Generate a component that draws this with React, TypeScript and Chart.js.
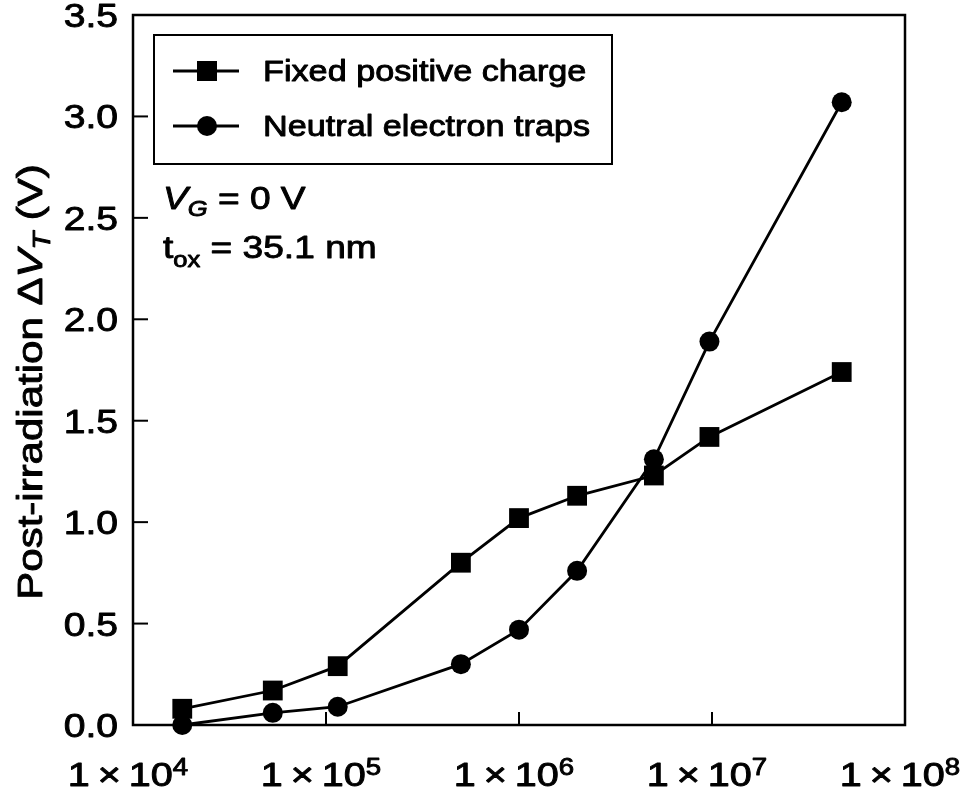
import React, { useEffect, useRef } from 'react';
import { Chart, registerables } from 'chart.js';

Chart.register(...registerables);

// ---- data ----
const xValues = [1.8e4, 5.3e4, 1.15e5, 5e5, 1e6, 2e6, 5e6, 9.7e6, 4.7e7];
const fixedPositiveCharge = [0.08, 0.17, 0.29, 0.8, 1.02, 1.13, 1.23, 1.42, 1.74];
const neutralElectronTraps = [0.0, 0.06, 0.09, 0.3, 0.47, 0.76, 1.31, 1.89, 3.07];
const seriesLabels = ['Fixed positive charge', 'Neutral electron traps'];
const xTickValues = [1e4, 1e5, 1e6, 1e7, 1e8];
const xTickExponents = ['4', '5', '6', '7', '8'];
const yMin = 0;
const yMax = 3.5;
const yStep = 0.5;

const FONT = '"Liberation Sans", Arial, Helvetica, sans-serif';

type Part = { t: string; size: number; italic?: boolean; dy?: number };

function fontOf(p: Part) {
  return `${p.italic ? 'italic ' : ''}${p.size}px ${FONT}`;
}

function runWidth(ctx: CanvasRenderingContext2D, parts: Part[]) {
  let w = 0;
  for (const p of parts) {
    ctx.font = fontOf(p);
    w += ctx.measureText(p.t).width;
  }
  return w;
}

function drawRun(
  ctx: CanvasRenderingContext2D,
  parts: Part[],
  x: number,
  y: number,
  sx: number,
  align: 'left' | 'center' | 'right'
) {
  ctx.save();
  ctx.textAlign = 'left';
  ctx.textBaseline = 'alphabetic';
  ctx.lineJoin = 'round';
  const w = runWidth(ctx, parts) * sx;
  const start = align === 'center' ? x - w / 2 : align === 'right' ? x - w : x;
  ctx.translate(start, y);
  ctx.scale(sx, 1);
  ctx.lineWidth = 0.9;
  let cx = 0;
  for (const p of parts) {
    ctx.font = fontOf(p);
    ctx.fillText(p.t, cx, p.dy || 0);
    ctx.strokeText(p.t, cx, p.dy || 0);
    cx += ctx.measureText(p.t).width;
  }
  ctx.restore();
}

const decorPlugin = {
  id: 'decor',
  afterDraw(chart: any) {
    const ctx: CanvasRenderingContext2D = chart.ctx;
    const { left, right, top, bottom } = chart.chartArea;
    const xs = chart.scales.x;
    const ys = chart.scales.y;
    ctx.save();
    ctx.strokeStyle = '#000';
    ctx.fillStyle = '#000';
    ctx.lineCap = 'butt';

    // frame
    ctx.lineWidth = 2.5;
    ctx.strokeRect(left, top, right - left, bottom - top);

    // y ticks (inward) + labels
    for (const t of ys.ticks) {
      const py = ys.getPixelForValue(t.value);
      if (t.value > yMin && t.value < yMax) {
        ctx.lineWidth = 2;
        ctx.beginPath();
        ctx.moveTo(left, py);
        ctx.lineTo(left + 15, py);
        ctx.stroke();
      }
      drawRun(ctx, [{ t: t.value.toFixed(1), size: 34 }], left - 15, py + 12, 1.15, 'right');
    }

    // x ticks (inward) + labels
    xTickValues.forEach((v, i) => {
      const px = xs.getPixelForValue(v);
      if (i > 0 && i < xTickValues.length - 1) {
        ctx.lineWidth = 2;
        ctx.beginPath();
        ctx.moveTo(px, bottom);
        ctx.lineTo(px, bottom - 13);
        ctx.stroke();
      }
      drawRun(
        ctx,
        [
          { t: '1\u2009\u00d7\u200910', size: 33 },
          { t: xTickExponents[i], size: 23, dy: -11 },
        ],
        px - 5,
        bottom + 61,
        1.2,
        'center'
      );
    });

    // y-axis title
    ctx.save();
    ctx.translate(42, (top + bottom) / 2 + 12);
    ctx.rotate(-Math.PI / 2);
    drawRun(
      ctx,
      [
        { t: 'Post-irradiation \u0394', size: 35 },
        { t: 'V', size: 35, italic: true },
        { t: 'T', size: 24, italic: true, dy: 8 },
        { t: ' (V)', size: 35 },
      ],
      0,
      0,
      1.2,
      'center'
    );
    ctx.restore();

    // legend
    const lx = left + 21;
    const ly = top + 20;
    ctx.lineWidth = 2;
    ctx.strokeRect(lx, ly, 458, 129);
    const rows = [ly + 36, ly + 91];
    rows.forEach((ry, i) => {
      ctx.lineWidth = 2.8;
      ctx.beginPath();
      ctx.moveTo(lx + 19, ry);
      ctx.lineTo(lx + 85, ry);
      ctx.stroke();
      if (i === 0) {
        ctx.fillRect(lx + 53 - 10, ry - 10, 20, 20);
      } else {
        ctx.beginPath();
        ctx.arc(lx + 53, ry, 10, 0, Math.PI * 2);
        ctx.fill();
      }
      drawRun(ctx, [{ t: seriesLabels[i], size: 29 }], lx + 109, ry + 10, 1.18, 'left');
    });

    // annotations
    drawRun(
      ctx,
      [
        { t: 'V', size: 32, italic: true },
        { t: 'G', size: 22, italic: true, dy: 7 },
        { t: ' = 0 V', size: 32 },
      ],
      left + 30,
      top + 194,
      1.16,
      'left'
    );
    drawRun(
      ctx,
      [
        { t: 't', size: 32 },
        { t: 'ox', size: 22, dy: 9 },
        { t: ' = 35.1 nm', size: 32 },
      ],
      left + 30,
      top + 243,
      1.16,
      'left'
    );

    ctx.restore();
  },
};

export default function App() {
  const ref = useRef<HTMLCanvasElement | null>(null);

  useEffect(() => {
    if (!ref.current) return;
    const chart = new Chart(ref.current, {
      type: 'line',
      data: {
        datasets: [
          {
            label: seriesLabels[0],
            data: xValues.map((x, i) => ({ x, y: fixedPositiveCharge[i] })),
            borderColor: '#000',
            backgroundColor: '#000',
            borderWidth: 2.8,
            pointStyle: 'rect',
            pointRadius: 14,
            pointBorderWidth: 0,
            pointBackgroundColor: '#000',
            tension: 0,
            clip: false,
          } as any,
          {
            label: seriesLabels[1],
            data: xValues.map((x, i) => ({ x, y: neutralElectronTraps[i] })),
            borderColor: '#000',
            backgroundColor: '#000',
            borderWidth: 2.8,
            pointStyle: 'circle',
            pointRadius: 10,
            pointBorderWidth: 0,
            pointBackgroundColor: '#000',
            tension: 0,
            clip: false,
          } as any,
        ],
      },
      options: {
        animation: false,
        responsive: false,
        devicePixelRatio: 1,
        layout: { padding: { top: 15, right: 61, left: 0, bottom: 0 } },
        plugins: {
          legend: { display: false },
          tooltip: { enabled: false },
          title: { display: false },
        },
        scales: {
          x: {
            type: 'logarithmic',
            min: xTickValues[0],
            max: xTickValues[xTickValues.length - 1],
            ticks: { display: false },
            grid: { display: false, drawTicks: false },
            border: { display: false },
            afterFit: (s: any) => {
              s.height = 68;
              s.paddingLeft = 0;
              s.paddingRight = 0;
            },
          },
          y: {
            min: yMin,
            max: yMax,
            ticks: { display: false, stepSize: yStep },
            grid: { display: false, drawTicks: false },
            border: { display: false },
            afterFit: (s: any) => {
              s.width = 133;
              s.paddingTop = 0;
              s.paddingBottom = 0;
            },
          },
        },
      } as any,
      plugins: [decorPlugin],
    });
    return () => chart.destroy();
  }, []);

  return (
    <div style={{ position: 'fixed', left: 0, top: 0, width: 966, height: 793, background: '#fff' }}>
      <canvas ref={ref} width={966} height={793} style={{ display: 'block' }} />
    </div>
  );
}
